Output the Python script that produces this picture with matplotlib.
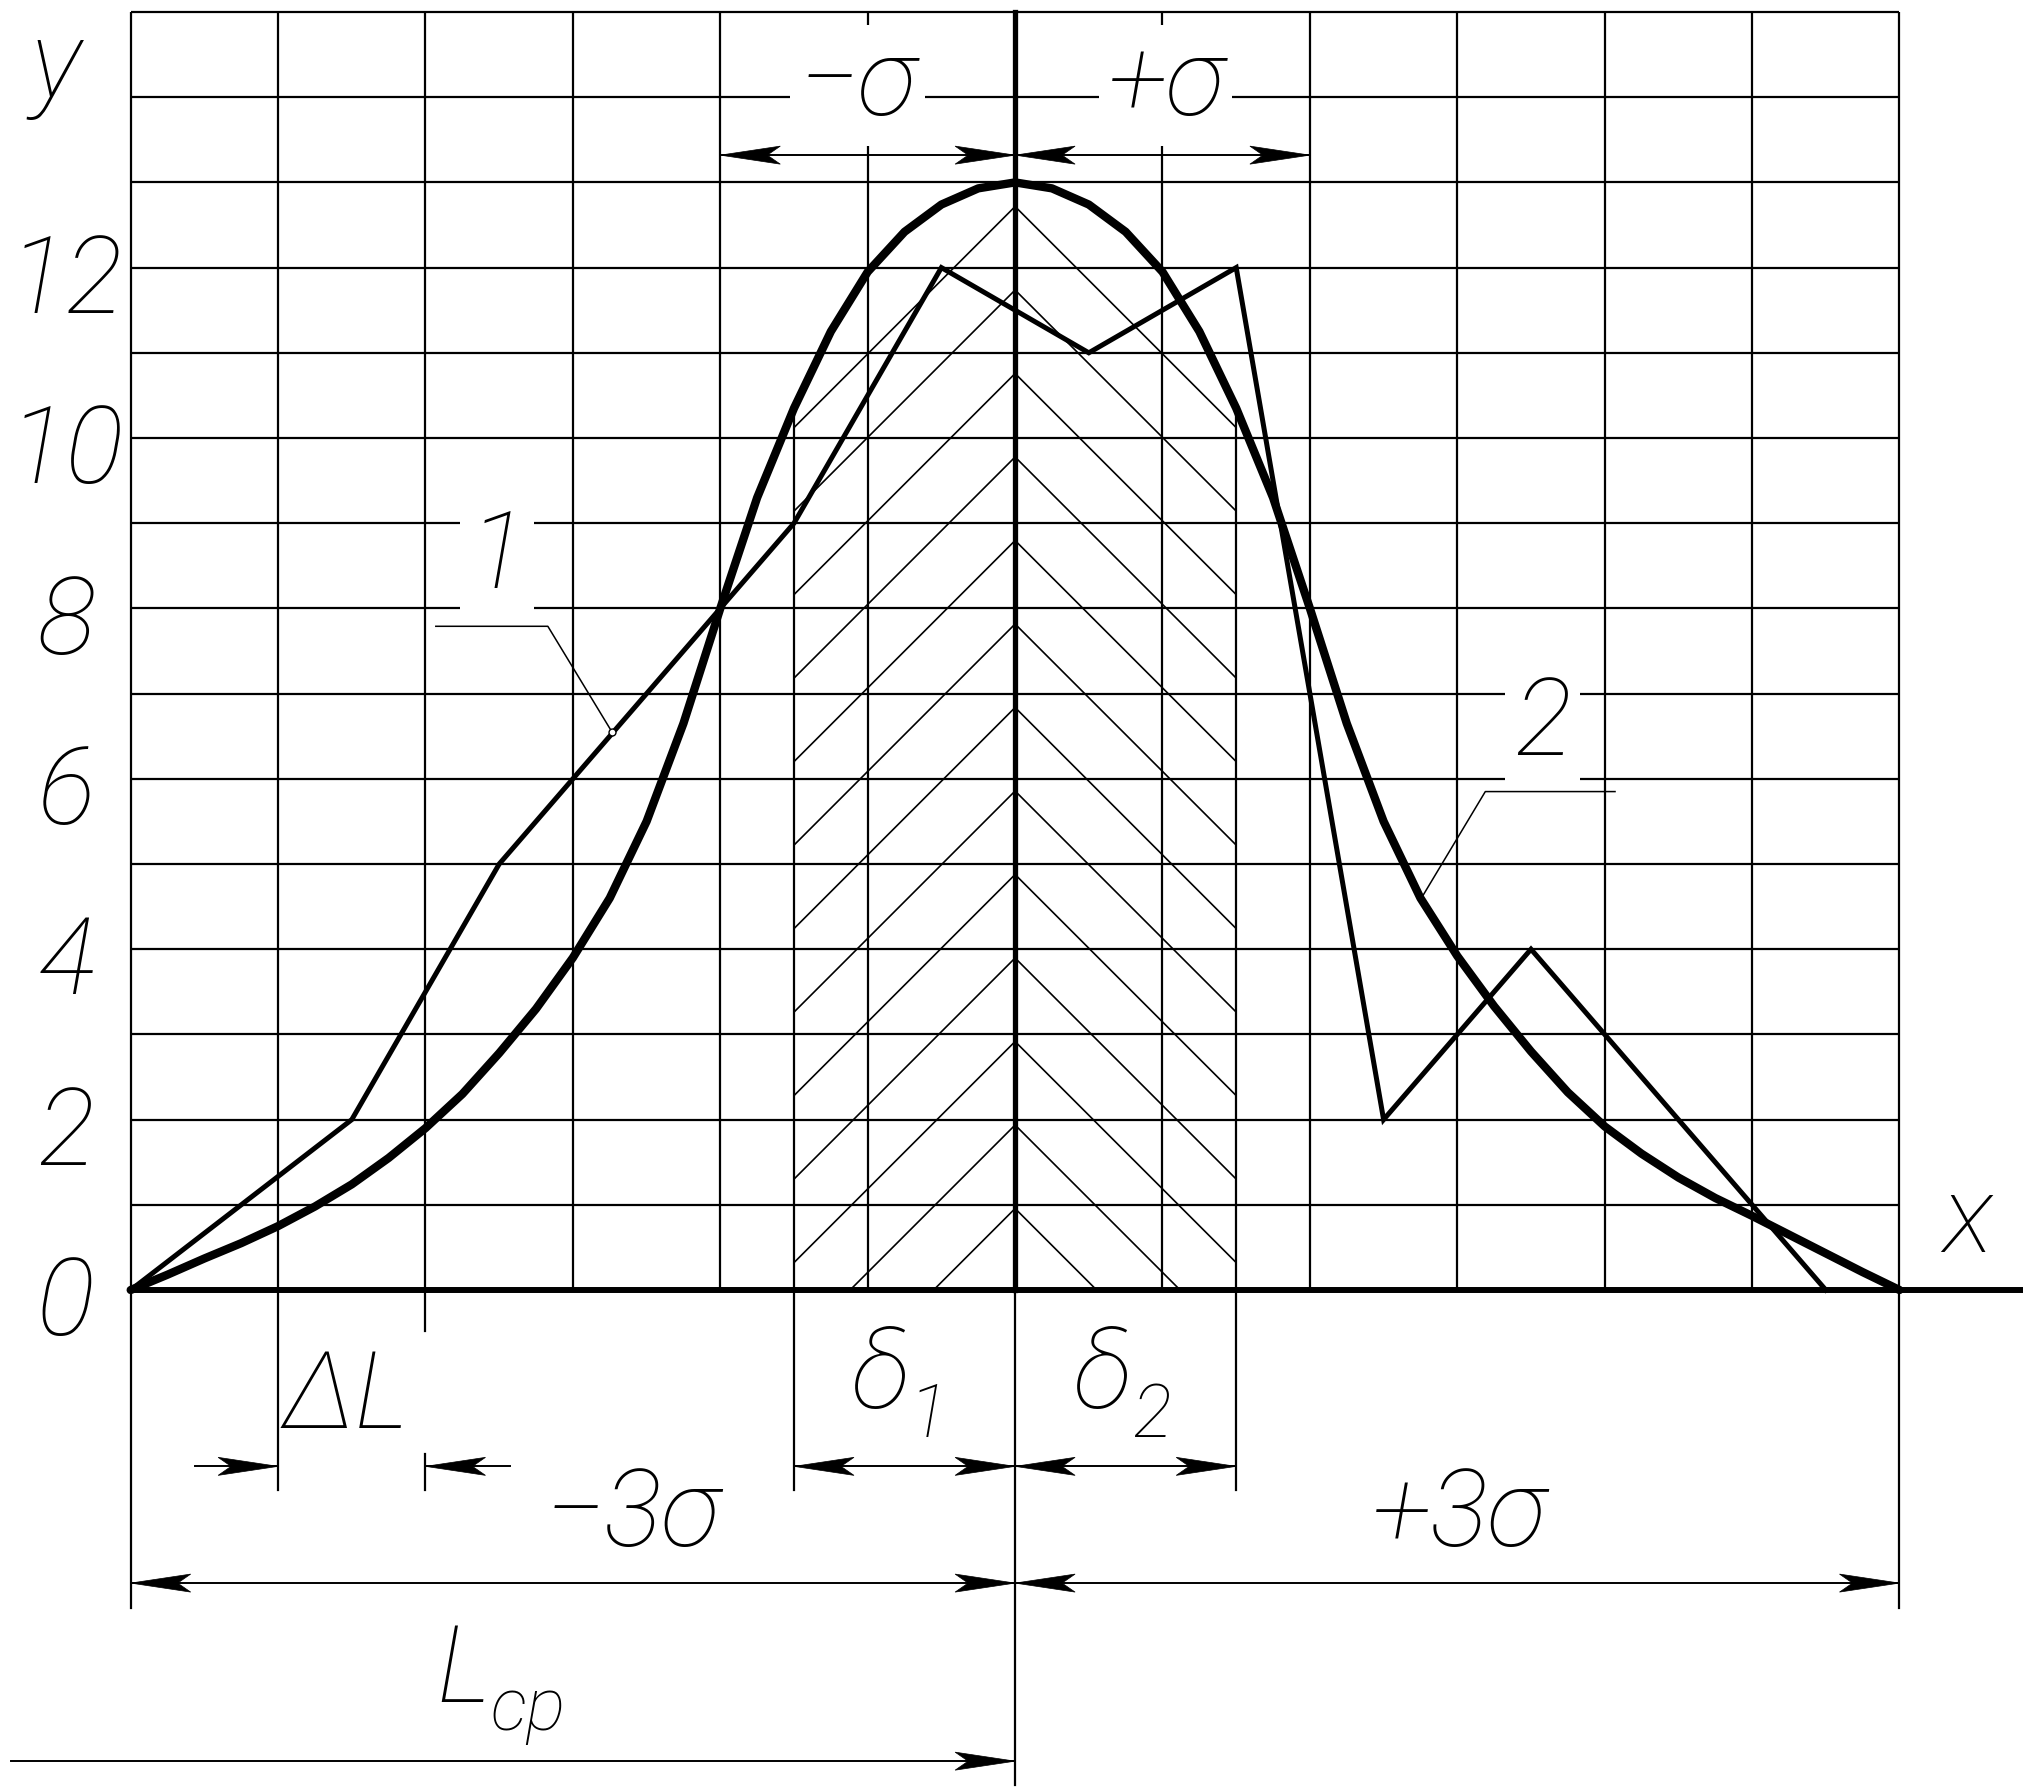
import matplotlib
matplotlib.use("Agg")
import matplotlib.pyplot as plt
import matplotlib.transforms as mtransforms
from matplotlib.patches import Polygon

# grid: columns are intervals dL, rows are units of y
grid_cols = list(range(0, 13))
grid_rows = list(range(0, 16))
y_tick_values = [0, 2, 4, 6, 8, 10, 12]
y_tick_labels = ["0", "2", "4", "6", "8", "10", "12"]

# curve 2 - smooth distribution curve
curve_x = [0, 0.25, 0.5, 0.75, 1, 1.25, 1.5, 1.75, 2, 2.25, 2.5, 2.75,
           3, 3.25, 3.5, 3.75, 4, 4.25, 4.5, 4.75, 5, 5.25, 5.5, 5.75,
           6, 6.25, 6.5, 6.75, 7, 7.25, 7.5, 7.75, 8, 8.25, 8.5, 8.75,
           9, 9.25, 9.5, 9.75, 10, 10.25, 10.5, 10.75, 11, 11.25, 11.5, 11.75, 12]
curve_y = [0, 0.18, 0.37, 0.55, 0.75, 0.98, 1.24, 1.55, 1.9, 2.3, 2.78, 3.3,
           3.9, 4.6, 5.5, 6.65, 8.0, 9.3, 10.35, 11.25, 11.95, 12.42, 12.74, 12.93,
           13.0, 12.93, 12.74, 12.42, 11.95, 11.25, 10.35, 9.3, 8.0, 6.65, 5.5, 4.6,
           3.92, 3.33, 2.8, 2.32, 1.92, 1.6, 1.32, 1.08, 0.87, 0.65, 0.43, 0.21, 0]

# curve 1 - broken line of the empirical distribution
poly_x = [0, 1.5, 2.5, 4.5, 5.5, 6.5, 7.5, 8.5, 9.5, 11.5]
poly_y = [0, 2, 5, 9, 12, 11, 12, 2, 4, 0]

L_mean = 6          # L_cp, centre of grouping
sigma = 2           # sigma in columns
delta1 = 1.5        # hatched zone left of centre
delta2 = 1.5        # hatched zone right of centre

# figure geometry (pixels) and data window
W, H, DPI = 2024, 1792, 100
x0_px, col_px = 130.7, 147.4
y0_px, row_px = 1290.0, 85.2
xmin, xmax = -x0_px / col_px, (W - x0_px) / col_px
ymin, ymax = (y0_px - H) / row_px, y0_px / row_px

fig = plt.figure(figsize=(W / DPI, H / DPI), dpi=DPI)
ax = fig.add_axes([0, 0, 1, 1])
ax.set_xlim(xmin, xmax)
ax.set_ylim(ymin, ymax)
ax.axis("off")

K = "black"
THIN = 1.6
FONT = dict(family=["Roboto", "DejaVu Sans"], style="italic", weight="light")
BIG, SUB = 78, 53


def text(x, y, s, size=BIG, ha="center", box=False):
    kw = dict(ha=ha, va="baseline", fontsize=size, color=K, zorder=6, **FONT)
    if box:
        kw["bbox"] = dict(fc="white", ec="none", pad=6)
    ax.text(x, y, s, **kw)


def head(x, y, d):
    # notched filled arrow head, tip at (x, y), pointing to d = +1 / -1
    L, w, n = 60, 9, 13
    verts = [(0, 0), (-d * L, w), (-d * (L - n), 0), (-d * L, -w)]
    tr = mtransforms.Affine2D() + mtransforms.ScaledTranslation(x, y, ax.transData)
    ax.add_patch(Polygon(verts, closed=True, transform=tr, fc=K, ec=K, lw=0.5, zorder=5))


def dim(xa, xb, y):
    ax.plot([xa, xb], [y, y], color=K, lw=1.4, zorder=3)
    head(xa, y, -1)
    head(xb, y, +1)


# grid
top = grid_rows[-1]
right = grid_cols[-1]
ax.vlines(grid_cols, 0, top, color=K, lw=THIN, zorder=1)
ax.hlines(grid_rows[1:], 0, right, color=K, lw=THIN, zorder=1)

# hatched zone under the curve between delta1 and delta2
x_lo, x_hi = L_mean - delta1, L_mean + delta2
i_lo, i_hi = curve_x.index(x_lo), curve_x.index(x_hi)
clip_pts = list(zip(curve_x[i_lo:i_hi + 1], curve_y[i_lo:i_hi + 1]))
clip_pts += [(x_hi, 0), (x_lo, 0)]
clip = Polygon(clip_pts, closed=True, fill=False, ec="none",
               transform=ax.transData)
ax.add_patch(clip)

slope = col_px / row_px          # 45 degree lines on the sheet
step = 83.5 / row_px
apex0 = -2.0 / row_px
for k in range(1, 16):
    ya = apex0 + k * step
    for side in (-1, 1):
        xe = L_mean + side * delta1
        ln, = ax.plot([L_mean, xe], [ya, ya - slope * delta1], color=K,
                      lw=1.2, zorder=2)
        ln.set_clip_path(clip)

# zone borders and extension lines
ax.plot([x_lo, x_lo], [-2.35, curve_y[i_lo]], color=K, lw=THIN, zorder=2)
ax.plot([x_hi, x_hi], [-2.35, curve_y[i_hi]], color=K, lw=THIN, zorder=2)
ax.plot([0, 0], [-3.73, 0], color=K, lw=THIN, zorder=2)
ax.plot([12, 12], [-3.73, 0], color=K, lw=THIN, zorder=2)
ax.plot([1, 1], [-2.35, 0], color=K, lw=THIN, zorder=2)
ax.plot([2, 2], [-0.48, 0], color=K, lw=THIN, zorder=2)
ax.plot([2, 2], [-2.35, -1.92], color=K, lw=THIN, zorder=2)
ax.plot([L_mean, L_mean], [-5.81, 0], color=K, lw=THIN, zorder=2)

# empirical broken line (1)
ax.plot(poly_x, poly_y, color=K, lw=3.6, zorder=3, solid_joinstyle="miter")

# smooth curve (2)
ax.plot(curve_x, curve_y, color=K, lw=6.0, zorder=4,
        solid_joinstyle="round", solid_capstyle="round")

# axes of the chart
ax.plot([L_mean, L_mean], [0, top], color=K, lw=3.8, zorder=4)
ax.plot([0, xmax - 0.01], [0, 0], color=K, lw=4.3, zorder=4,
        solid_capstyle="round")

# dimensions
dim(L_mean - sigma, L_mean, 13.32)
dim(L_mean, L_mean + sigma, 13.32)
dim(x_lo, L_mean, -2.07)
dim(L_mean, x_hi, -2.07)
dim(0, L_mean, -3.44)
dim(L_mean, 12, -3.44)
ax.plot([0.436, 1], [-2.07, -2.07], color=K, lw=1.4, zorder=3)
ax.plot([2, 2.57], [-2.07, -2.07], color=K, lw=1.4, zorder=3)
head(1, -2.07, +1)
head(2, -2.07, -1)
ax.plot([-0.81, L_mean], [-5.53, -5.53], color=K, lw=1.4, zorder=3)
head(L_mean, -5.53, +1)

# leaders for 1 and 2 (above the white label boxes)
ax.plot([2.07, 2.83, 3.265], [7.79, 7.79, 6.55], color=K, lw=1.1, zorder=7)
ax.plot([3.265], [6.55], marker="o", ms=5, mfc="white", mec=K, mew=1.0, zorder=7)
ax.plot([10.07, 9.19, 8.76], [5.85, 5.85, 4.61], color=K, lw=1.1, zorder=7)

# labels
for v, s in zip(y_tick_values, y_tick_labels):
    text(-0.439, v - 0.53, s)
text(-0.507, 14.0, "y")
text(12.46, 0.45, "x")
text(4.93, 13.79, "\u2212\u03c3", box=True)
text(7.02, 13.79, "+\u03c3", box=True)
text(2.485, 8.24, "1", box=True)
text(9.58, 6.28, "2", box=True)
text(5.28, -1.38, "\u03b4", ha="right")
text(5.28, -1.73, "1", size=SUB, ha="left")
text(6.79, -1.38, "\u03b4", ha="right")
text(6.79, -1.73, "2", size=SUB, ha="left")
text(1.46, -1.62, "\u0394L")
text(3.40, -3.0, "\u22123\u03c3")
text(9.01, -3.0, "+3\u03c3")
text(2.44, -4.84, "L", ha="right")
text(2.44, -5.16, "\u0441\u0440", size=SUB, ha="left")

fig.savefig("out.png", dpi=DPI, facecolor="white")
